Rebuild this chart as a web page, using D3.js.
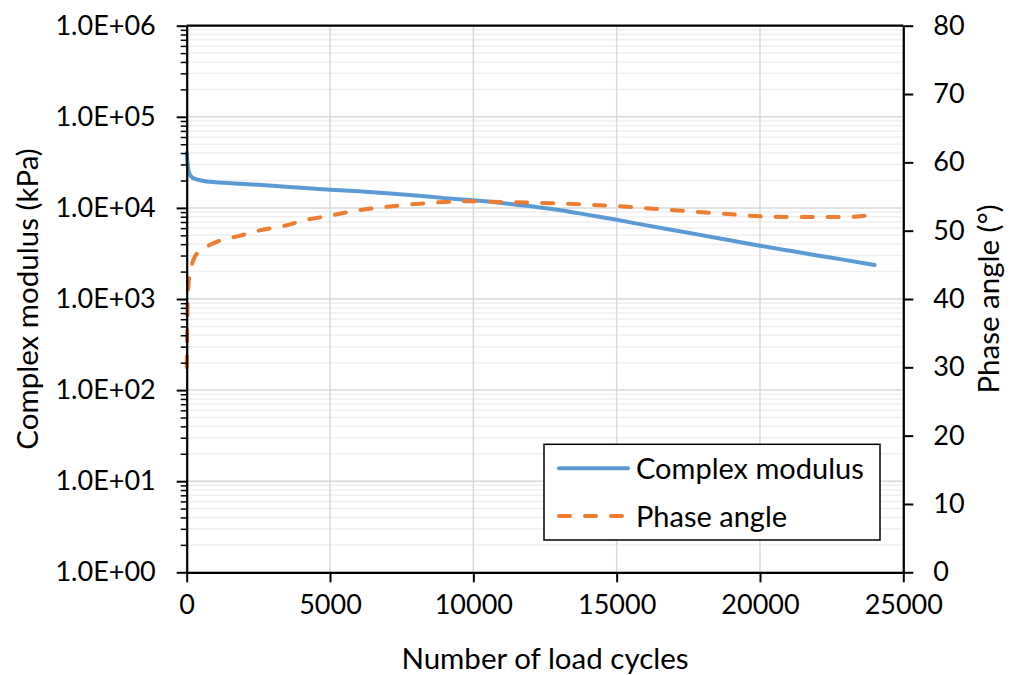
<!DOCTYPE html>
<html>
<head>
<meta charset="utf-8">
<script src="https://cdnjs.cloudflare.com/ajax/libs/d3/7.8.5/d3.min.js"></script>
<style>
  body { margin: 0; background: #fff; }
  svg text { font-family: Lato, "Open Sans", sans-serif; fill: #000; }
</style>
</head>
<body>
<div id="svg-container"></div>
<script>
// DATA
var cycles_modulus = [0, 20, 50, 100, 200, 300, 500, 700, 1000, 2000, 3000, 4000, 5000, 6000, 7000, 8000,
                      9000, 10000, 11000, 12000, 13000, 14000, 15000, 16000, 17000, 18000, 19000, 20000,
                      21000, 22000, 23000, 24000];
var complex_modulus = [40000, 33000, 27000, 23500, 21500, 20800, 20000, 19500, 19100, 18300, 17500, 16600,
                       15800, 15200, 14500, 13700, 12800, 12100, 11300, 10400, 9500, 8380, 7400, 6470,
                       5680, 4990, 4380, 3850, 3400, 3010, 2670, 2360];

var cycles_phase = [0, 10, 20, 30, 50, 100, 200, 300, 500, 800, 1200, 1800, 2500, 3500, 4000, 5000, 6000,
                    7000, 8000, 9000, 10000, 11000, 12000, 13000, 14000, 15000, 16000, 17000, 18000,
                    19000, 20000, 21000, 22000, 23000, 23500, 24000];
var phase_angle = [30, 33, 36, 39, 41.5, 43.5, 45.3, 46.3, 47.2, 47.9, 48.6, 49.2, 50.0, 50.8, 51.4, 52.2,
                   53.0, 53.5, 53.9, 54.2, 54.3, 54.2, 54.1, 54.0, 53.8, 53.6, 53.3, 53.0, 52.7,
                   52.4, 52.1, 52.0, 52.0, 52.0, 52.1, 52.5];

var x_ticks = [0, 5000, 10000, 15000, 20000, 25000];
var left_ticks = [1, 10, 100, 1000, 10000, 100000, 1000000];
var right_ticks = [0, 10, 20, 30, 40, 50, 60, 70, 80];
var series_names = ["Complex modulus", "Phase angle"];

var width = 1011, height = 675;
var m = {left: 186.7, right: 903.3, top: 25.7, bottom: 572.3};

var svg = d3.select("#svg-container")
  .append("svg")
  .attr("width", width)
  .attr("height", height);

// SCALES
var x = d3.scaleLinear().domain([0, 25000]).range([m.left, m.right]);
var yl = d3.scaleLog().domain([1, 1e6]).range([m.bottom, m.top]);
var yr = d3.scaleLinear().domain([0, 80]).range([m.bottom, m.top]);

// minor log values 2..9 per decade
var minor_vals = [];
left_ticks.slice(0, -1).forEach(function(d) {
  for (var k = 2; k <= 9; k++) minor_vals.push(d * k);
});

// GRID
var grid = svg.append("g").attr("id", "grid");
grid.selectAll(".minor")
  .data(minor_vals).enter().append("line")
  .attr("x1", m.left).attr("x2", m.right)
  .attr("y1", function(d) { return yl(d); })
  .attr("y2", function(d) { return yl(d); })
  .style("stroke", "#efefef").style("stroke-width", 1.5);
grid.selectAll(".major")
  .data(left_ticks).enter().append("line")
  .attr("x1", m.left).attr("x2", m.right)
  .attr("y1", function(d) { return yl(d); })
  .attr("y2", function(d) { return yl(d); })
  .style("stroke", "#d9d9d9").style("stroke-width", 1.5);
grid.selectAll(".vgrid")
  .data(x_ticks).enter().append("line")
  .attr("x1", function(d) { return x(d); })
  .attr("x2", function(d) { return x(d); })
  .attr("y1", m.top).attr("y2", m.bottom)
  .style("stroke", "#d9d9d9").style("stroke-width", 1.5);

// LINES
var mod_data = cycles_modulus.map(function(c, i) { return [c, complex_modulus[i]]; });
var ph_data = cycles_phase.map(function(c, i) { return [c, phase_angle[i]]; });

svg.append("path")
  .datum(mod_data)
  .attr("d", d3.line()
    .x(function(d) { return x(d[0]); })
    .y(function(d) { return yl(d[1]); })
    .curve(d3.curveMonotoneX))
  .style("fill", "none")
  .style("stroke", "#5b9bd5")
  .style("stroke-width", 4)
  .style("stroke-linecap", "round");

svg.append("path")
  .datum(ph_data)
  .attr("d", d3.line()
    .x(function(d) { return x(d[0]); })
    .y(function(d) { return yr(d[1]); })
    .curve(d3.curveMonotoneX))
  .style("fill", "none")
  .style("stroke", "#ed7d31")
  .style("stroke-width", 4)
  .style("stroke-dasharray", "11,15")
  .style("stroke-linecap", "round");

// AXES
function style_axis(g) {
  g.select(".domain").style("stroke", "#000").style("stroke-width", 2.2);
  g.selectAll(".tick line").style("stroke", "#000").style("stroke-width", 2);
  g.selectAll(".tick text").style("font-size", "27px").style("font-family", "Lato, sans-serif");
}

var fmt = function(d) {
  var e = Math.round(Math.log10(d));
  return "1.0E+" + (e < 10 ? "0" + e : e);
};

svg.append("g")
  .attr("transform", "translate(" + m.left + ",0)")
  .call(d3.axisLeft(yl).tickValues(minor_vals).tickSize(6).tickFormat(""))
  .call(function(g) { g.select(".domain").remove(); g.selectAll(".tick line").style("stroke", "#000").style("stroke-width", 1.5); });

svg.append("g")
  .attr("transform", "translate(" + m.left + ",0)")
  .call(d3.axisLeft(yl).tickValues(left_ticks).tickFormat(fmt).tickSize(10).tickSizeOuter(0).tickPadding(21))
  .call(style_axis);

svg.append("g")
  .attr("transform", "translate(" + m.right + ",0)")
  .call(d3.axisRight(yr).tickValues(right_ticks).tickSize(10).tickSizeOuter(0).tickPadding(20))
  .call(style_axis);

svg.append("g")
  .attr("transform", "translate(0," + m.bottom + ")")
  .call(d3.axisBottom(x).tickValues(x_ticks).tickFormat(d3.format("d")).tickSize(10).tickSizeOuter(0).tickPadding(13))
  .call(style_axis);

// top border
svg.append("line")
  .attr("x1", m.left).attr("x2", m.right)
  .attr("y1", m.top).attr("y2", m.top)
  .style("stroke", "#000").style("stroke-width", 2.2);

// AXIS TITLES
svg.append("text")
  .attr("transform", "translate(" + ((m.left + m.right) / 2) + ",669)")
  .attr("text-anchor", "middle")
  .style("font-size", "29.5px")
  .text("Number of load cycles");

svg.append("text")
  .attr("transform", "translate(38," + ((m.top + m.bottom) / 2) + ") rotate(-90)")
  .attr("text-anchor", "middle")
  .style("font-size", "29.5px")
  .text("Complex modulus (kPa)");

svg.append("text")
  .attr("transform", "translate(999," + ((m.top + m.bottom) / 2) + ") rotate(-90)")
  .attr("text-anchor", "middle")
  .style("font-size", "29.5px")
  .text("Phase angle (°)");

// LEGEND
var legend = svg.append("g").attr("id", "legend");
legend.append("rect")
  .attr("x", 544).attr("y", 444.3)
  .attr("width", 336).attr("height", 95.7)
  .style("fill", "#fff")
  .style("stroke", "#000")
  .style("stroke-width", 1.5);

var leg_colors = ["#5b9bd5", "#ed7d31"];
var leg_dash = ["none", "11,15"];
var leg_y = d3.scalePoint().domain(series_names).range([468.3, 516]);

legend.selectAll(".leg-line")
  .data(series_names).enter().append("line")
  .attr("x1", 559).attr("x2", 628)
  .attr("y1", function(d) { return leg_y(d); })
  .attr("y2", function(d) { return leg_y(d); })
  .style("stroke", function(d, i) { return leg_colors[i]; })
  .style("stroke-width", 4)
  .style("stroke-dasharray", function(d, i) { return leg_dash[i]; })
  .style("stroke-linecap", "round");

legend.selectAll(".leg-text")
  .data(series_names).enter().append("text")
  .attr("x", 636)
  .attr("y", function(d) { return leg_y(d) + 10.5; })
  .style("font-size", "29px")
  .text(function(d) { return d; });
</script>
</body>
</html>
